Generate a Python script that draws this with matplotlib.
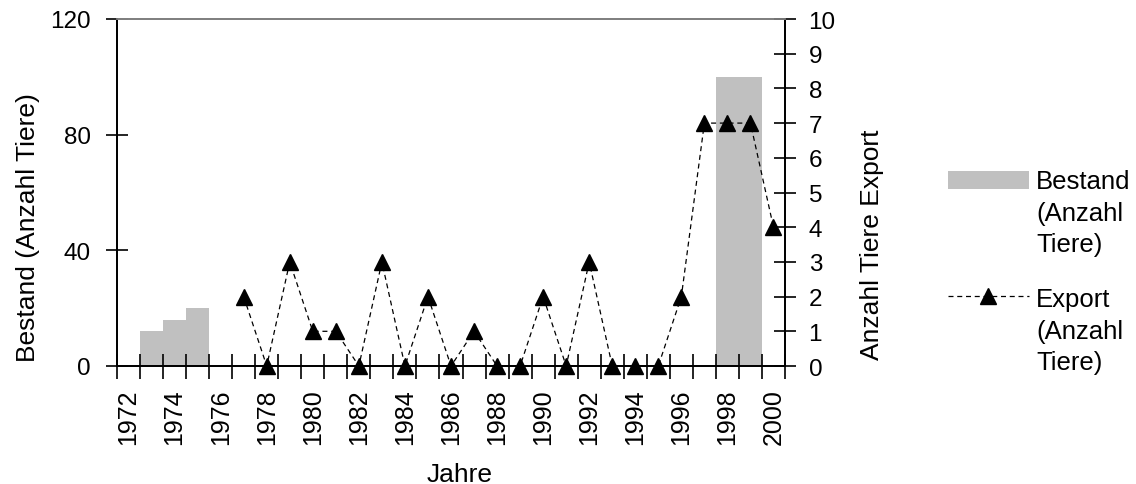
import numpy as np
import matplotlib
matplotlib.use("Agg")
import matplotlib.pyplot as plt
from matplotlib.patches import Rectangle
from matplotlib.lines import Line2D

plt.rcParams['font.family'] = ['Liberation Sans', 'DejaVu Sans']

jahre = list(range(1972, 2001))
bestand_jahre = [1973, 1974, 1975, 1998, 1999]
bestand = [12, 16, 20, 100, 100]
export_jahre = list(range(1977, 2001))
export = [2, 0, 3, 1, 1, 0, 3, 0, 2, 0, 1, 0, 0, 2, 0, 3, 0, 0, 0, 2, 7, 7, 7, 4]
legende = ['Bestand\n(Anzahl\nTiere)', 'Export\n(Anzahl\nTiere)']

fs = 17.5    # tick labels
fl = 19      # axis labels
W, H = 1136, 485

fig = plt.figure(figsize=(W/100, H/100), dpi=100)
ax = fig.add_axes([117/W, 1 - 367/H, (785 - 117)/W, (367 - 20)/H])
ax2 = ax.twinx()

idx = {j: i for i, j in enumerate(jahre)}
bx = [idx[j] for j in bestand_jahre]
ex = [idx[j] for j in export_jahre]

ax.bar(bx, bestand, width=1.0, color='#c0c0c0', zorder=1)
ax2.plot(ex, export, ls=(0, (4, 3)), color='black', lw=0.9,
         marker='^', ms=11, mfc='black', mec='black', zorder=3, clip_on=False)

ax.set_xlim(-0.5, len(jahre) - 0.5)
ax.set_ylim(0, 120)
ax2.set_ylim(0, 10)
ax.set_yticks([0, 40, 80, 120])
ax2.set_yticks(range(0, 11))

# category boundaries as ticks, labels every other year at category centers
ax.set_xticks(np.arange(-0.5, len(jahre), 1.0))
ax.set_xticklabels([])
ax.set_xticks(range(0, len(jahre), 2), minor=True)
ax.set_xticklabels([str(jahre[i]) for i in range(0, len(jahre), 2)],
                   minor=True, rotation=90, fontsize=18)
ax.tick_params(axis='x', which='major', direction='inout', length=18, width=1.2)
ax.tick_params(axis='x', which='minor', length=0, pad=16)
ax.tick_params(axis='y', direction='inout', length=16, width=1.2, labelsize=fs, pad=11)
ax2.tick_params(axis='y', direction='inout', length=16, width=1.2, labelsize=fs, pad=9)

for a in (ax, ax2):
    a.spines['top'].set_color('#808080')
    for s in a.spines.values():
        s.set_linewidth(1.3)

ax.set_ylabel('Bestand (Anzahl Tiere)', fontsize=fl)
ax2.set_ylabel('Anzahl Tiere Export', fontsize=fl)
ax.set_xlabel('Jahre', fontsize=fl)
ax.yaxis.set_label_coords(-0.116, 0.403)
ax2.yaxis.set_label_coords(1.113, 0.352)
ax.xaxis.set_label_coords(0.513, -0.331)
ax.xaxis.label.set_va('baseline')

# legend drawn by hand: handle aligned with the first text line
fig.add_artist(Rectangle((948/W, 1 - 190/H), 81/W, 18/H, transform=fig.transFigure,
                         facecolor='#c0c0c0', edgecolor='none'))
fig.add_artist(Line2D([948/W, 1029/W], [1 - 297/H] * 2, transform=fig.transFigure,
                      ls=(0, (4, 3)), color='black', lw=0.9))
fig.add_artist(Line2D([988/W], [1 - 297/H], transform=fig.transFigure,
                      marker='^', ms=11, mfc='black', mec='black', ls='none'))
for txt, y in zip(legende, [170, 288]):
    fig.text(1036/W, 1 - y/H, txt, fontsize=18.5, va='top', ha='left',
             linespacing=1.4)

fig.savefig('out.png', dpi=100)
